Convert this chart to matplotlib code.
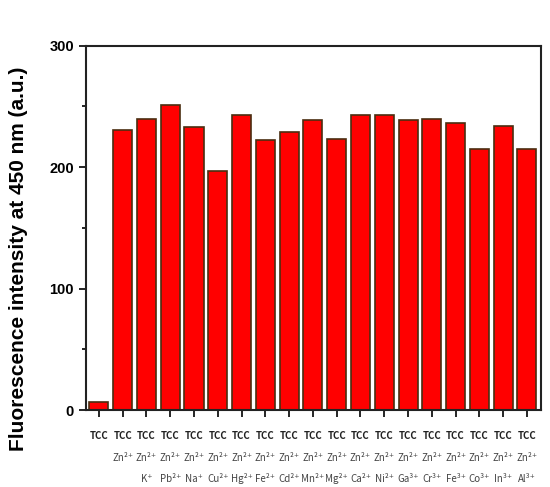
import matplotlib
matplotlib.use("Agg")
import matplotlib.pyplot as plt
import numpy as np

# bar heights (a.u.)
values = [7, 231, 240, 251, 233, 197, 243, 222, 229, 239, 223, 243, 243, 239, 240, 236, 215, 234, 215]
row1 = ["TCC"] * 19
row2 = [""] + ["Zn²⁺"] * 18
row3 = ["", "", "K⁺", "Pb²⁺", "Na⁺", "Cu²⁺", "Hg²⁺", "Fe²⁺", "Cd²⁺", "Mn²⁺", "Mg²⁺",
        "Ca²⁺", "Ni²⁺", "Ga³⁺", "Cr³⁺", "Fe³⁺", "Co³⁺", "In³⁺", "Al³⁺"]

fig = plt.figure(figsize=(5.5, 4.87), dpi=100)
ax = fig.add_axes([0.156, 0.158, 0.828, 0.748])

x = np.arange(len(values))
ax.bar(x, values, width=0.8, color="#ff0000", edgecolor="#4a2e10", linewidth=1.2)

ax.set_xlim(-0.55, 18.6)
ax.set_ylim(0, 300)
ax.set_yticks([0, 100, 200, 300])
ax.set_yticks([50, 150, 250], minor=True)
ax.set_xticks(x)
ax.set_xticklabels([])
ax.tick_params(axis="both", which="major", direction="out", length=5, width=1.2)
ax.tick_params(axis="y", which="minor", direction="out", length=3, width=1.2)
for lab in ax.get_yticklabels():
    lab.set_fontfamily("Liberation Sans")
    lab.set_fontweight("bold")
    lab.set_fontsize(10.5)

for sp in ax.spines.values():
    sp.set_linewidth(1.5)
    sp.set_color("#222222")

xlab_font = ["Noto Sans CJK KR", "DejaVu Sans"]
for i in x:
    ax.annotate(row1[i], (i, 0), xycoords=("data", "axes fraction"), xytext=(0, -18.5),
                textcoords="offset points", ha="center", va="center",
                fontsize=7, fontweight="bold", family=xlab_font, color="#222222")
    ax.annotate(row2[i], (i, 0), xycoords=("data", "axes fraction"), xytext=(0, -34.5),
                textcoords="offset points", ha="center", va="center",
                fontsize=7, family=xlab_font, color="#444444")
    ax.annotate(row3[i], (i, 0), xycoords=("data", "axes fraction"), xytext=(0, -49.5),
                textcoords="offset points", ha="center", va="center",
                fontsize=7, family=xlab_font, color="#444444")

ax.set_ylabel("Fluorescence intensity at 450 nm (a.u.)", fontsize=15,
              fontweight="bold", family="Liberation Sans")
ax.yaxis.set_label_coords(-0.128, 0.415)

fig.savefig("out.png", dpi=100)
